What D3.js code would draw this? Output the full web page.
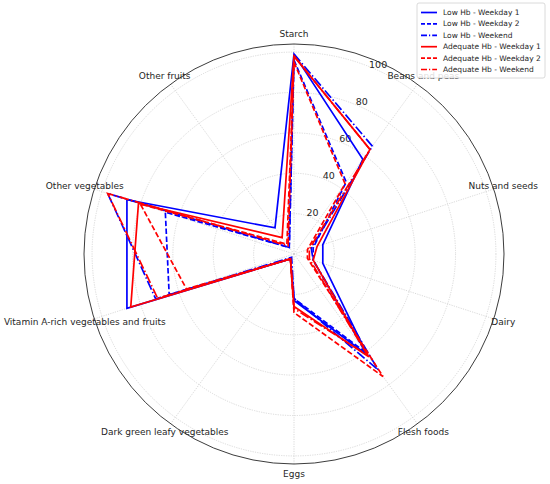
<!DOCTYPE html>
<html>
<head>
<meta charset="utf-8">
<script src="https://cdn.jsdelivr.net/npm/d3@7"></script>
<style>
  body { margin: 0; background: #fff; }
  svg { font-family: "DejaVu Sans", sans-serif; }
</style>
</head>
<body>
<svg id="chart" width="550" height="484"></svg>
<script>
// Radar chart: diet diversity by Hb status

var categories = ["Starch", "Beans and peas", "Nuts and seeds", "Dairy", "Flesh foods",
  "Eggs", "Dark green leafy vegetables", "Vitamin A-rich vegetables and fruits",
  "Other vegetables", "Other fruits"];

var lowWeekday1 = [99, 58, 15, 15, 62, 23, 3, 87, 87, 16];
var lowWeekday2 = [96, 44, 10, 10, 60, 22, 3, 65, 67, 4];
var lowWeekend  = [99, 66, 9, 10, 71, 22, 2, 72, 97, 4];
var adqWeekday1 = [98, 64, 12, 10, 63, 26, 3, 85, 81, 10];
var adqWeekday2 = [95, 43, 7, 7, 75, 29, 3, 56, 80, 6];
var adqWeekend  = [98, 64, 8, 8, 62, 27, 3, 71, 97, 5];

var seriesNames = ["Low Hb - Weekday 1", "Low Hb - Weekday 2", "Low Hb - Weekend",
  "Adequate Hb - Weekday 1", "Adequate Hb - Weekday 2", "Adequate Hb - Weekend"];

var radialTicks = [20, 40, 60, 80, 100];

var series = [
  {name: seriesNames[0], values: lowWeekday1, color: "#0000ff", dash: null},
  {name: seriesNames[1], values: lowWeekday2, color: "#0000ff", dash: "5.5,2.4"},
  {name: seriesNames[2], values: lowWeekend,  color: "#0000ff", dash: "9.6,2.4,1.5,2.4"},
  {name: seriesNames[3], values: adqWeekday1, color: "#ff0000", dash: null},
  {name: seriesNames[4], values: adqWeekday2, color: "#ff0000", dash: "5.5,2.4"},
  {name: seriesNames[5], values: adqWeekend,  color: "#ff0000", dash: "9.6,2.4,1.5,2.4"}
];

var svg = d3.select("#chart");
var cx = 294, cy = 254, outerR = 210;

var r = d3.scaleLinear().domain([0, 104]).range([0, outerR]);
var angle = d3.scaleBand().domain(categories).range([0, 2 * Math.PI]).align(0).paddingInner(0).paddingOuter(0);
var ang = function(c) { return angle(c); };

var g = svg.append("g").attr("transform", "translate(" + cx + "," + cy + ")");

// grid circles
g.selectAll(".grid-circle")
  .data(radialTicks)
  .enter().append("circle")
    .attr("r", function(d) { return r(d); })
    .attr("fill", "none")
    .attr("stroke", "#cfcfcf")
    .attr("stroke-width", 0.8)
    .attr("stroke-dasharray", "1.2,1.2");

// spokes
g.selectAll(".spoke")
  .data(categories)
  .enter().append("line")
    .attr("x1", 0).attr("y1", 0)
    .attr("x2", function(d) { return outerR * Math.sin(ang(d)); })
    .attr("y2", function(d) { return -outerR * Math.cos(ang(d)); })
    .attr("stroke", "#cfcfcf")
    .attr("stroke-width", 0.8)
    .attr("stroke-dasharray", "1.2,1.2");

// radial tick labels
var labelAngle = 24 * Math.PI / 180;
g.selectAll(".rtick")
  .data(radialTicks)
  .enter().append("text")
    .attr("x", function(d) { return (r(d) + 5) * Math.sin(labelAngle); })
    .attr("y", function(d) { return -(r(d) + 5) * Math.cos(labelAngle); })
    .attr("text-anchor", "middle")
    .attr("dominant-baseline", "central")
    .attr("font-size", 9.5)
    .attr("fill", "#262626")
    .text(function(d) { return d; });

// series lines
var line = d3.lineRadial()
  .angle(function(d, i) { return ang(categories[i]); })
  .radius(function(d) { return r(d); })
  .curve(d3.curveLinearClosed);

series.forEach(function(s) {
  g.append("path")
    .attr("d", line(s.values))
    .attr("fill", "none")
    .attr("stroke", s.color)
    .attr("stroke-width", 1.7)
    .attr("stroke-dasharray", s.dash);
});

// outer frame
g.append("circle")
  .attr("r", outerR)
  .attr("fill", "none")
  .attr("stroke", "#262626")
  .attr("stroke-width", 0.9);

// category labels
g.selectAll(".cat")
  .data(categories)
  .enter().append("text")
    .attr("x", function(d) { return 220 * Math.sin(ang(d)); })
    .attr("y", function(d) { return -220 * Math.cos(ang(d)); })
    .attr("text-anchor", "middle")
    .attr("dominant-baseline", "central")
    .attr("font-size", 9)
    .attr("fill", "#262626")
    .text(function(d) { return d; });

// legend
var legend = svg.append("g").attr("transform", "translate(417,3)");
legend.append("rect")
  .attr("width", 128).attr("height", 75)
  .attr("rx", 2)
  .attr("fill", "#fff").attr("fill-opacity", 0.85)
  .attr("stroke", "#d0d0d0").attr("stroke-width", 0.8);

var rows = legend.selectAll(".row")
  .data(series)
  .enter().append("g")
    .attr("transform", function(d, i) { return "translate(0," + (9.5 + i * 11.4) + ")"; });

rows.append("line")
  .attr("x1", 4).attr("x2", 20)
  .attr("stroke", function(d) { return d.color; })
  .attr("stroke-width", 1.7)
  .attr("stroke-dasharray", function(d) { return d.dash ? (d.dash === "5.5,2.4" ? "4,2" : "6,2,1.2,2") : null; });

rows.append("text")
  .attr("x", 26)
  .attr("dominant-baseline", "central")
  .attr("font-size", 7.5)
  .attr("fill", "#262626")
  .text(function(d) { return d.name; });
</script>
</body>
</html>
